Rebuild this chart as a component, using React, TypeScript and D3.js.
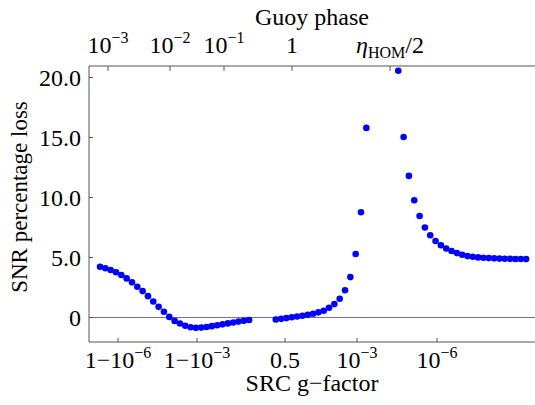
import React from 'react'
import { scaleLinear } from 'd3'

// sample index of the first point in each run of points
const leftStart = 0
const riseStart = 33
const fallStart = 56

// SNR percentage loss
const lossLeft = [4.23, 4.1, 3.96, 3.77, 3.54, 3.26, 2.93, 2.57, 2.2, 1.78, 1.33, 0.89, 0.48, 0.05, -0.28, -0.5, -0.69, -0.81, -0.86, -0.84, -0.79, -0.72, -0.65, -0.57, -0.49, -0.41, -0.34, -0.27, -0.21]
const lossRise = [-0.17, -0.11, -0.05, 0.02, 0.08, 0.15, 0.23, 0.32, 0.43, 0.57, 0.82, 1.12, 1.57, 2.27, 3.37, 5.29, 8.77, 15.8]
const lossFall = [20.57, 15.04, 11.8, 9.77, 8.46, 7.5, 6.85, 6.38, 6.02, 5.75, 5.54, 5.37, 5.23, 5.12, 5.06, 5.01, 4.98, 4.95, 4.93, 4.91, 4.9, 4.89, 4.88, 4.88, 4.87]

const yTicks = [0, 5, 10, 15, 20]
const yTickLabels = ['0', '5.0', '10.0', '15.0', '20.0']

// bottom axis: SRC g-factor
const bottomTicks = [3.38, 18.21, 34.74, 48.25, 63.27]
const bottomLabels = [
    { base: '1\u221210', sup: '\u22126' },
    { base: '1\u221210', sup: '\u22123' },
    { base: '0.5', sup: '' },
    { base: '10', sup: '\u22123' },
    { base: '10', sup: '\u22126' },
]

// top axis: Guoy phase
const topTicks = [1.5, 13.14, 23.28, 36.05, 54.45]
const topLabels = [
    { base: '10', sup: '\u22123' },
    { base: '10', sup: '\u22122' },
    { base: '10', sup: '\u22121' },
    { base: '1', sup: '' },
]

const W = 535
const H = 405
const left = 89
const right = 535
const top = 66
const bottom = 342

const family = "'Liberation Serif', serif"
const ts = { fontFamily: family }

const Sup = ({ base, sup }: { base: string; sup: string }) => (
    <>
        {base}
        {sup && (
            <tspan dy={-10} fontSize={16}>
                {sup}
            </tspan>
        )}
    </>
)

const App = () => {
    const x = scaleLinear().domain([-2.07, 81.67]).range([left, right])
    const y = scaleLinear().domain([-2.04, 20.96]).range([bottom, top])

    const points = [
        ...lossLeft.map((v, i) => ({ i: leftStart + i, v })),
        ...lossRise.map((v, i) => ({ i: riseStart + i, v })),
        ...lossFall.map((v, i) => ({ i: fallStart + i, v })),
    ]

    return (
        <svg
            width={W}
            height={H}
            fontFamily={family}
            style={{ position: 'absolute', left: 0, top: 0, background: '#fff' }}
        >
            {/* zero line */}
            <line x1={left} x2={right} y1={y(0)} y2={y(0)} stroke="#6a6ab8" strokeWidth={1} />

            {/* frame */}
            <path
                d={`M${right},${top}H${left}V${bottom}H${right}`}
                fill="none"
                stroke="#555"
                strokeWidth={1}
            />

            {/* left axis */}
            {yTicks.map((t, k) => (
                <g key={t}>
                    <line x1={left} x2={left + 4} y1={y(t)} y2={y(t)} stroke="#555" />
                    <text x={left - 8} y={y(t) + 8} textAnchor="end" fontSize={24} style={ts}>
                        {yTickLabels[k]}
                    </text>
                </g>
            ))}

            {/* bottom axis */}
            {bottomTicks.map((t, k) => (
                <g key={t}>
                    <line x1={x(t)} x2={x(t)} y1={bottom} y2={bottom - 4} stroke="#555" />
                    <text x={x(t)} y={368} textAnchor="middle" fontSize={24} style={ts}>
                        <Sup {...bottomLabels[k]} />
                    </text>
                </g>
            ))}

            {/* top axis */}
            {topTicks.map((t, k) => (
                <g key={t}>
                    <line x1={x(t)} x2={x(t)} y1={top} y2={top + 5} stroke="#555" />
                    <text x={x(t)} y={53} textAnchor="middle" fontSize={24} style={ts}>
                        {k < topLabels.length ? (
                            <Sup {...topLabels[k]} />
                        ) : (
                            <>
                                <tspan fontStyle="italic">η</tspan>
                                <tspan dy={5} fontSize={16}>HOM</tspan>
                                <tspan dy={-5}>/2</tspan>
                            </>
                        )}
                    </text>
                </g>
            ))}

            {/* axis titles */}
            <text x={(left + right) / 2} y={391} textAnchor="middle" fontSize={24} style={ts}>
                SRC g{'\u2212'}factor
            </text>
            <text x={(left + right) / 2} y={25} textAnchor="middle" fontSize={24} style={ts}>
                Guoy phase
            </text>
            <text
                transform="translate(27,197) rotate(-90)"
                textAnchor="middle"
                fontSize={23}
                style={ts}
            >
                SNR percentage loss
            </text>

            {/* points */}
            {points.map(p => (
                <circle key={p.i} cx={x(p.i)} cy={y(p.v)} r={3.3} fill="#0000ff" />
            ))}
        </svg>
    )
}

export default App
